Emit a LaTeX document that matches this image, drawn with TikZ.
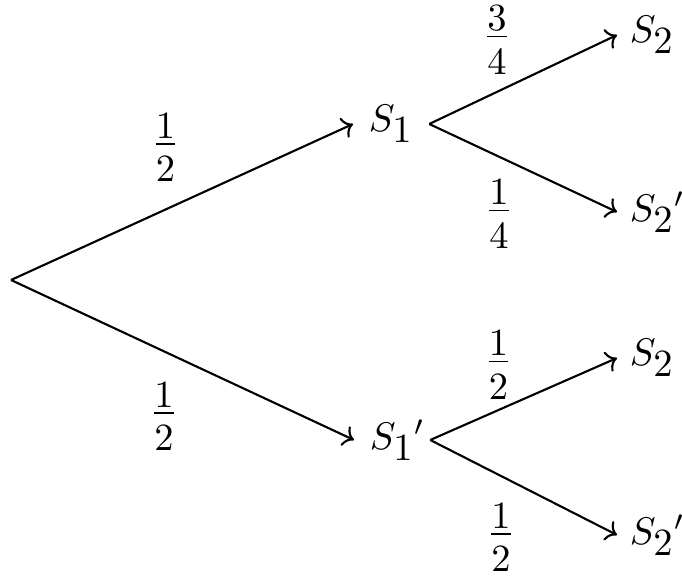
\documentclass[tikz,border=0pt]{standalone}
\usepackage{amsmath}
\usetikzlibrary{arrows.meta}
\newcommand{\probfrac}[2]{\frac{\displaystyle #1}{\displaystyle\rule{0pt}{0.93em}#2}}
\newcommand{\st}[2]{{S_{\textstyle #1}}\rlap{$#2$}}

\begin{document}
\begin{tikzpicture}[>=To,semithick,font=\fontsize{10.95pt}{13.6pt}\selectfont,
  mid/.style={anchor=west,inner xsep=4.2pt},
  leaf/.style={anchor=west},
  prob/.style={inner sep=1pt}]
\useasboundingbox (0,0) rectangle (6.82,5.78);
% states
\coordinate (root) at (0.11,2.98);
\node[mid] (s1) at (3.53,4.54) {$\st{1}{}$};
\node[mid] (s1p) at (3.54,1.38) {$\st{1}{^\prime}$};
\node[leaf] (s2a) at (6.17,5.43) {$\st{2}{}$};
\node[leaf] (s2ap) at (6.17,3.66) {$\st{2}{^\prime}$};
\node[leaf] (s2b) at (6.17,2.20) {$\st{2}{}$};
\node[leaf] (s2bp) at (6.17,0.43) {$\st{2}{^\prime}$};
% branches
\draw[->] (root) -- (s1.west);
\draw[->] (root) -- (s1p.west);
\draw[->] (s1.east) -- (s2a.west);
\draw[->] (s1.east) -- (s2ap.west);
\draw[->] (s1p.east) -- (s2b.west);
\draw[->] (s1p.east) -- (s2bp.west);
% probabilities
\node[prob] (pa) at (1.655,4.303) {$\probfrac{1}{2}$};
\node[prob] (pb) at (1.64,1.613) {$\probfrac{1}{2}$};
\node[prob] (pc) at (4.97,5.376) {$\probfrac{3}{4}$};
\node[prob] (pd) at (4.99,3.636) {$\probfrac{1}{4}$};
\node[prob] (pe) at (4.985,2.126) {$\probfrac{1}{2}$};
\node[prob] (pf) at (5.01,0.403) {$\probfrac{1}{2}$};
\end{tikzpicture}
\end{document}
